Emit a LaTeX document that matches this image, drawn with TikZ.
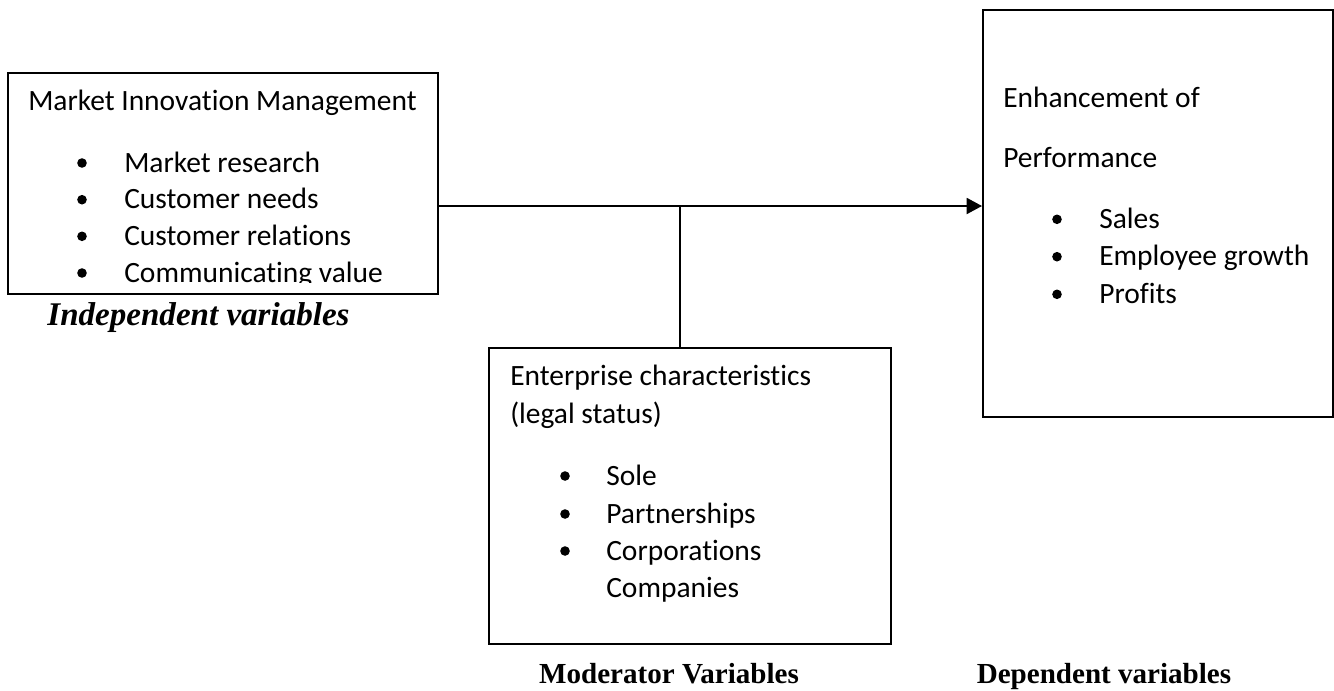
\documentclass[tikz,border=0pt]{standalone}
\usepackage{fontspec}
\setmainfont{Carlito}[Ligatures={NoCommon}]
\newfontfamily\timesf{Liberation Serif}
\usetikzlibrary{arrows.meta}
\tikzset{
  box/.style={draw, line width=1.3pt, anchor=north west, inner sep=0pt},
  txt/.style={anchor=base west, inner sep=0pt, font=\fontsize{22.1}{26}\selectfont},
  lab/.style={anchor=base, inner sep=0pt, font=\timesf\bfseries\fontsize{21.8}{26}\selectfont},
  conn/.style={line width=1.4pt},
  dot/.style={fill=black}
}
\begin{document}
\begin{tikzpicture}[x=0.75pt,y=-0.75pt]
\useasboundingbox (0,0) rectangle (1334,690);
% boxes
\node[box, minimum width=322.5pt, minimum height=165.75pt] (b1) at (7,72) {};
\node[box, minimum width=262.5pt, minimum height=305.25pt] (b2) at (982,9) {};
\node[box, minimum width=301.5pt, minimum height=222pt] (b3) at (488,347) {};
% box 1 text (clipped)
\begin{scope}
\clip (7,72) rectangle (437,282.5);
\node[txt] (t1) at (28,110) {Market Innovation Management};
\foreach \y/\s [count=\i] in {172/Market research,208.7/Customer needs,245.3/Customer relations,282/Communicating value}{
  \fill[dot] (82,\y-9) circle (3.6pt);
  \node[txt] (t1i\i) at (124,\y) {\s};
}
\end{scope}
% box 2 text
\node[txt] (t2a) at (1003,107) {Enhancement of};
\node[txt] (t2b) at (1003,167) {Performance};
\foreach \y/\s [count=\i] in {228.3/Sales,265.7/Employee growth,303.3/Profits}{
  \fill[dot] (1057,\y-9) circle (3.6pt);
  \node[txt] (t2i\i) at (1099,\y) {\s};
}
% box 3 text
\node[txt] (t3a) at (510,385) {Enterprise characteristics};
\node[txt] (t3b) at (510,423) {(legal status)};
\foreach \y/\s [count=\i] in {485/Sole,523/Partnerships,560/Corporations}{
  \fill[dot] (565,\y-9) circle (3.6pt);
  \node[txt] (t3i\i) at (606,\y) {\s};
}
\node[txt] (t3c) at (606,597) {Companies};
% labels
\node[lab, font=\timesf\bfseries\itshape\fontsize{24.8}{29}\selectfont] (l1) at (198.5,325) {Independent variables};
\node[lab] (l2) at (669,683) {Moderator Variables};
\node[lab] (l3) at (1104,683) {Dependent variables};
% connectors
\coordinate (j) at (680,206);
\draw[conn, -{Triangle[length=11.5pt,width=12pt]}] (b1.east |- j) -- (b2.west |- j);
\draw[conn] (b3.north -| j) -- (j);
\end{tikzpicture}
\end{document}
